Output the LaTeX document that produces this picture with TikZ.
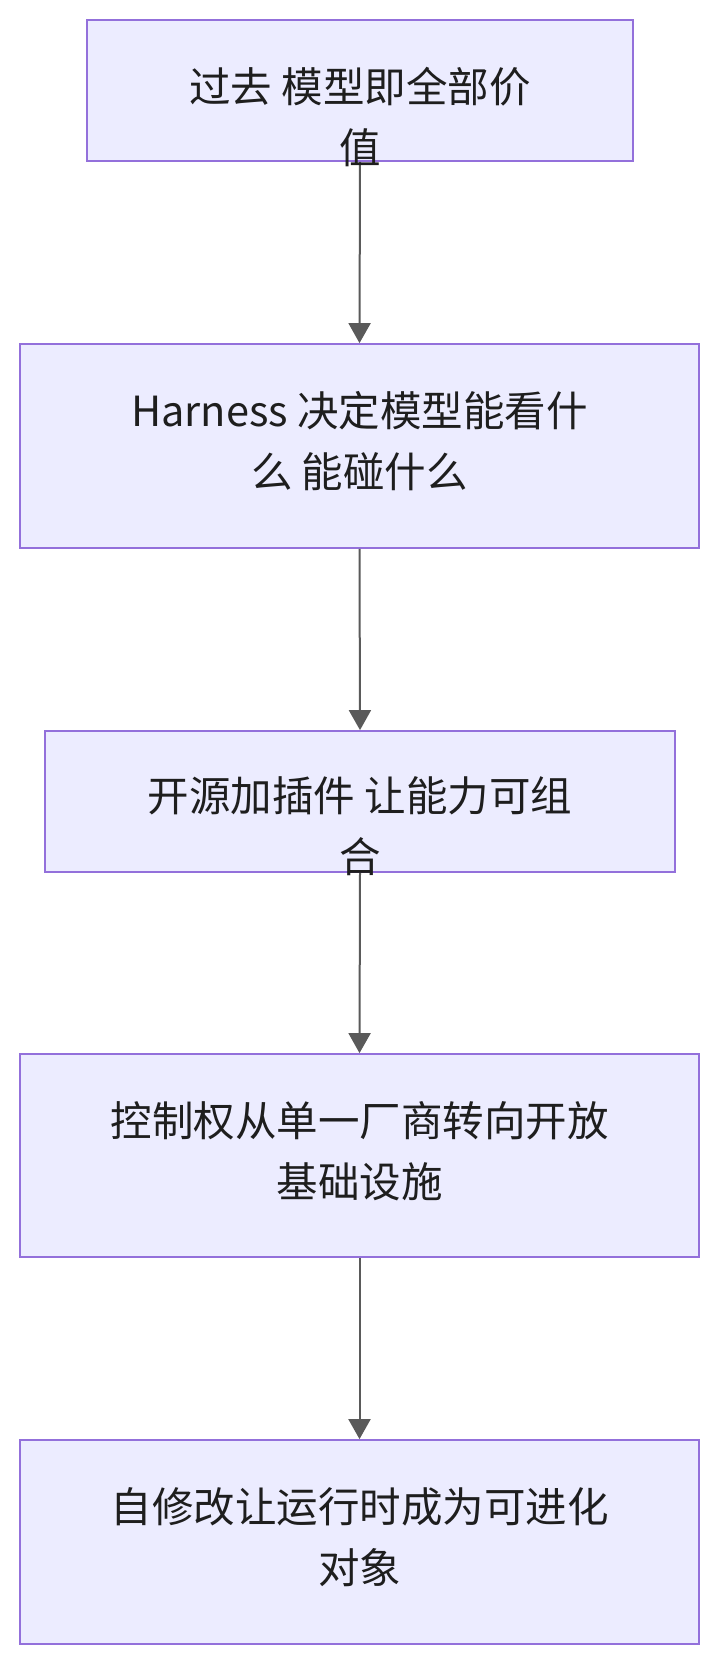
\documentclass[tikz,border=0pt]{standalone}
\usepackage{fontspec}
\setmainfont{Noto Sans CJK SC}
\usepackage{tikz}
\usetikzlibrary{arrows.meta,positioning}

\definecolor{boxfill}{HTML}{ECECFF}
\definecolor{boxline}{HTML}{9370DB}
\definecolor{arrowgray}{HTML}{5A5A5A}
\definecolor{textdark}{HTML}{1E1E1E}

\begin{document}
\begin{tikzpicture}[x=1pt,y=-1pt,
  stage/.style={draw=boxline,line width=1.8pt,fill=boxfill,rectangle,inner sep=0pt},
  stagetext/.style={anchor=north,inner sep=0pt,align=center,text=textdark,
    font=\fontsize{41.5}{61}\selectfont},
  flow/.style={draw=arrowgray,line width=2pt,-{Triangle[width=22pt,length=20pt]}}]
\useasboundingbox[fill=white] (0,0) rectangle (720,1664);

% stages
\node[stage,minimum width=546pt,minimum height=141pt] (b1) at (360,90.5) {};
\node[stage,minimum width=679pt,minimum height=204pt] (b2) at (359.5,446) {};
\node[stage,minimum width=630pt,minimum height=141pt] (b3) at (360,801.5) {};
\node[stage,minimum width=679pt,minimum height=203pt] (b4) at (359.5,1155.5) {};
\node[stage,minimum width=679pt,minimum height=204pt] (b5) at (359.5,1542) {};

% connectors
\draw[flow] (b1.south) -- (b2.north);
\draw[flow] (b2.south) -- (b3.north);
\draw[flow] (b3.south) -- (b4.north);
\draw[flow] (b4.south) -- (b5.north);

% texts
\node[stagetext] (t1) at ([yshift=-48pt]b1.north) {过去 模型即全部价\\值};
\node[stagetext] (t2) at ([yshift=-48pt]b2.north) {Harness 决定模型能看什\\么 能碰什么};
\node[stagetext] (t3) at ([yshift=-46pt]b3.north) {开源加插件 让能力可组\\合};
\node[stagetext] (t4) at ([yshift=-48pt]b4.north) {控制权从单一厂商转向开放\\基础设施};
\node[stagetext] (t5) at ([yshift=-48pt]b5.north) {自修改让运行时成为可进化\\对象};
\end{tikzpicture}
\end{document}
